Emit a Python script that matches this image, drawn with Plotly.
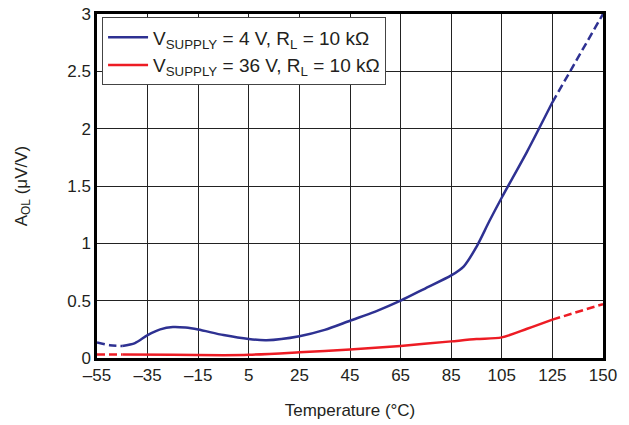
import plotly.graph_objects as go

# x positions are on the chart's evenly spaced axis (last tick labelled 150)
tick_vals = [-55, -35, -15, 5, 25, 45, 65, 85, 105, 125, 145]
tick_text = ["\u201355", "\u201335", "\u201315", "5", "25", "45", "65", "85", "105", "125", "150"]
y_ticks = [0, 0.5, 1, 1.5, 2, 2.5, 3]
y_text = ["0", "0.5", "1", "1.5", "2", "2.5", "3"]

blue_dash_l_x = [-55, -50, -45]
blue_dash_l_y = [0.135, 0.112, 0.105]
blue_x = [-45, -40, -35, -30, -25, -20, -15, -5, 5, 12, 25, 35, 45, 55, 65, 75, 85, 90, 95, 100, 105, 115, 125]
blue_y = [0.105, 0.13, 0.2, 0.25, 0.27, 0.265, 0.248, 0.2, 0.165, 0.155, 0.19, 0.245, 0.325, 0.405, 0.5, 0.61, 0.72, 0.8, 0.97, 1.19, 1.40, 1.80, 2.23]
blue_dash_r_x = [125, 145]
blue_dash_r_y = [2.23, 3.0]

red_dash_l_x = [-55, -45]
red_dash_l_y = [0.03, 0.03]
red_x = [-45, -25, -5, 5, 25, 45, 65, 85, 95, 105, 115, 125]
red_y = [0.03, 0.028, 0.025, 0.028, 0.05, 0.075, 0.105, 0.145, 0.165, 0.18, 0.255, 0.335]
red_dash_r_x = [125, 145]
red_dash_r_y = [0.335, 0.47]

BLUE = "#2E3192"
RED = "#ED1C24"
TXT = "#231F20"
FONT = "Liberation Sans, Arial, sans-serif"

fig = go.Figure()

def add(x, y, color, dash, name=None, show=False, group=None):
    fig.add_trace(go.Scatter(
        x=x, y=y, mode="lines",
        line=dict(color=color, width=2.5, dash=dash, shape="spline", smoothing=0.8),
        name=name, showlegend=show, legendgroup=group, hoverinfo="skip"))

add(blue_x, blue_y, BLUE, "solid", "V<sub>SUPPLY</sub> = 4 V, R<sub>L</sub> = 10 k\u03a9", True, "a")
add(red_x, red_y, RED, "solid", "V<sub>SUPPLY</sub> = 36 V, R<sub>L</sub> = 10 k\u03a9", True, "b")
add(blue_dash_l_x, blue_dash_l_y, BLUE, "8px,4px", group="a")
add(blue_dash_r_x, blue_dash_r_y, BLUE, "8px,4px", group="a")
add(red_dash_l_x, red_dash_l_y, RED, "8px,4px", group="b")
add(red_dash_r_x, red_dash_r_y, RED, "8px,4px", group="b")

fig.update_layout(
    width=629, height=425,
    margin=dict(l=89, r=34, t=6, b=75, autoexpand=False),
    paper_bgcolor="white", plot_bgcolor="white",
    font=dict(family=FONT, size=17, color=TXT),
    legend=dict(x=0.01, y=0.99, xanchor="left", yanchor="top",
                bgcolor="white", bordercolor="#444", borderwidth=1,
                font=dict(size=19, color=TXT), tracegroupgap=0,
                traceorder="grouped", itemwidth=40),
    xaxis=dict(range=[-55, 145], tickvals=tick_vals, ticktext=tick_text,
               showgrid=True, gridcolor="#222", gridwidth=1,
               showline=True, linecolor="black", linewidth=2.5, mirror=True,
               ticks="", zeroline=False, automargin=False,
               ticklabeloverflow="allow",
               tickfont=dict(size=17),
               title=dict(text="Temperature (\u00b0C)", font=dict(size=17), standoff=20)),
    yaxis=dict(range=[0, 3], tickvals=y_ticks, ticktext=y_text,
               showgrid=True, gridcolor="#222", gridwidth=1,
               showline=True, linecolor="black", linewidth=2.5, mirror=True,
               ticks="", zeroline=False, automargin=False,
               ticklabeloverflow="allow",
               tickfont=dict(size=17),
               title=dict(text="A<sub>OL</sub> (\u03bcV/V)", font=dict(size=17), standoff=36)),
)

fig.write_html("out.html")
